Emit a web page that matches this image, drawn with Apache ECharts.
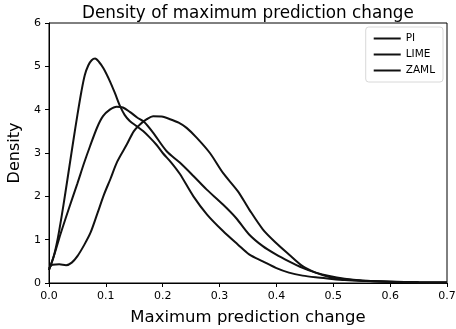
<!DOCTYPE html>
<html>
<head>
<meta charset="utf-8">
<script src="https://cdn.jsdelivr.net/npm/echarts@6/dist/echarts.min.js"></script>
<style>
  html, body { margin: 0; padding: 0; background: #fff; }
  #chart { width: 456px; height: 329px; }
</style>
</head>
<body>
<div id="chart"></div>
<script>
// Kernel density estimates of the maximum prediction change per method
const seriesNames = ['PI', 'LIME', 'ZAML'];

const piX = [0, 0.008, 0.015, 0.022, 0.029, 0.036, 0.043, 0.05, 0.057, 0.063, 0.069, 0.075, 0.081, 0.088, 0.096, 0.107, 0.116, 0.125, 0.133, 0.142, 0.154, 0.166, 0.177, 0.189, 0.2, 0.215, 0.23, 0.254, 0.278, 0.306, 0.332, 0.352, 0.376, 0.399, 0.422, 0.446, 0.469, 0.493, 0.52, 0.55, 0.6, 0.65, 0.7];
const piY = [0.3, 0.6, 1.0, 1.52, 2.1, 2.7, 3.3, 3.88, 4.42, 4.8, 5.02, 5.14, 5.18, 5.1, 4.95, 4.66, 4.38, 4.08, 3.88, 3.74, 3.62, 3.5, 3.36, 3.19, 3.0, 2.78, 2.52, 2.0, 1.58, 1.2, 0.89, 0.66, 0.5, 0.35, 0.24, 0.17, 0.13, 0.1, 0.07, 0.05, 0.03, 0.015, 0.01];

const limeX = [0, 0.01, 0.02, 0.035, 0.05, 0.062, 0.072, 0.085, 0.095, 0.107, 0.119, 0.13, 0.142, 0.155, 0.167, 0.183, 0.207, 0.23, 0.254, 0.277, 0.306, 0.329, 0.352, 0.376, 0.399, 0.422, 0.446, 0.469, 0.493, 0.52, 0.55, 0.6, 0.65, 0.7];
const limeY = [0.3, 0.68, 1.12, 1.72, 2.3, 2.78, 3.15, 3.6, 3.85, 4.0, 4.07, 4.05, 3.95, 3.82, 3.72, 3.47, 3.04, 2.78, 2.47, 2.16, 1.81, 1.5, 1.12, 0.85, 0.66, 0.5, 0.35, 0.24, 0.16, 0.1, 0.06, 0.03, 0.015, 0.01];

const zamlX = [0, 0.006, 0.018, 0.03, 0.04, 0.05, 0.062, 0.073, 0.085, 0.097, 0.108, 0.12, 0.137, 0.149, 0.16, 0.172, 0.183, 0.198, 0.213, 0.228, 0.242, 0.26, 0.283, 0.306, 0.332, 0.352, 0.376, 0.399, 0.422, 0.446, 0.469, 0.493, 0.516, 0.55, 0.6, 0.65, 0.7];
const zamlY = [0.34, 0.42, 0.43, 0.41, 0.47, 0.62, 0.88, 1.16, 1.6, 2.05, 2.4, 2.8, 3.2, 3.5, 3.66, 3.78, 3.85, 3.84, 3.78, 3.7, 3.58, 3.35, 3.0, 2.54, 2.12, 1.7, 1.24, 0.93, 0.66, 0.39, 0.24, 0.14, 0.09, 0.05, 0.03, 0.015, 0.01];

const xTicks = { min: 0, max: 0.7, step: 0.1 };
const yTicks = { min: 0, max: 6, step: 1 };

const pairs = (xs, ys) => xs.map((x, i) => [x, ys[i]]);
const curves = [pairs(piX, piY), pairs(limeX, limeY), pairs(zamlX, zamlY)];

const font = 'DejaVu Sans';
const ink = '#111';

const chart = echarts.init(document.getElementById('chart'), null, { renderer: 'canvas' });
chart.setOption({
  backgroundColor: '#fff',
  animation: false,
  title: {
    text: 'Density of maximum prediction change',
    left: 77, top: 0,
    textStyle: { fontFamily: font, fontSize: 16.8, fontWeight: 'normal', color: '#000' }
  },
  legend: {
    orient: 'vertical', right: 13, top: 27,
    backgroundColor: '#fff', borderColor: '#d8d8d8', borderWidth: 1, borderRadius: 3,
    padding: [6, 8, 6, 8], itemGap: 5,
    itemWidth: 27, itemHeight: 2, icon: 'rect',
    textStyle: { fontFamily: font, fontSize: 10.5, color: '#000' },
    data: seriesNames
  },
  grid: {
    left: 49, right: 9, top: 23, bottom: 46,
    outerBoundsMode: 'none', containLabel: false,
    show: true, borderColor: '#000', borderWidth: 1
  },
  xAxis: {
    type: 'value', min: xTicks.min, max: xTicks.max, interval: xTicks.step,
    name: 'Maximum prediction change', nameLocation: 'middle', nameGap: 26,
    nameTextStyle: { fontFamily: font, fontSize: 16.5, color: '#000' },
    axisLine: { show: true, lineStyle: { color: '#000', width: 1 } },
    axisTick: { show: true, length: 4, lineStyle: { color: '#000' } },
    axisLabel: { fontFamily: font, fontSize: 11, color: '#000', margin: 8,
      formatter: v => v.toFixed(1) },
    splitLine: { show: false }
  },
  yAxis: {
    type: 'value', min: yTicks.min, max: yTicks.max, interval: yTicks.step,
    name: 'Density', nameLocation: 'middle', nameGap: 22,
    nameTextStyle: { fontFamily: font, fontSize: 16, color: '#000' },
    axisLine: { show: true, lineStyle: { color: '#000', width: 1 } },
    axisTick: { show: true, length: 4, lineStyle: { color: '#000' } },
    axisLabel: { fontFamily: font, fontSize: 11, color: '#000', margin: 8 },
    splitLine: { show: false }
  },
  series: seriesNames.map((name, i) => ({
    name, type: 'line', data: curves[i], smooth: 0.3,
    showSymbol: false, symbol: 'none',
    lineStyle: { color: ink, width: 2 },
    itemStyle: { color: ink }
  }))
});
</script>
</body>
</html>
